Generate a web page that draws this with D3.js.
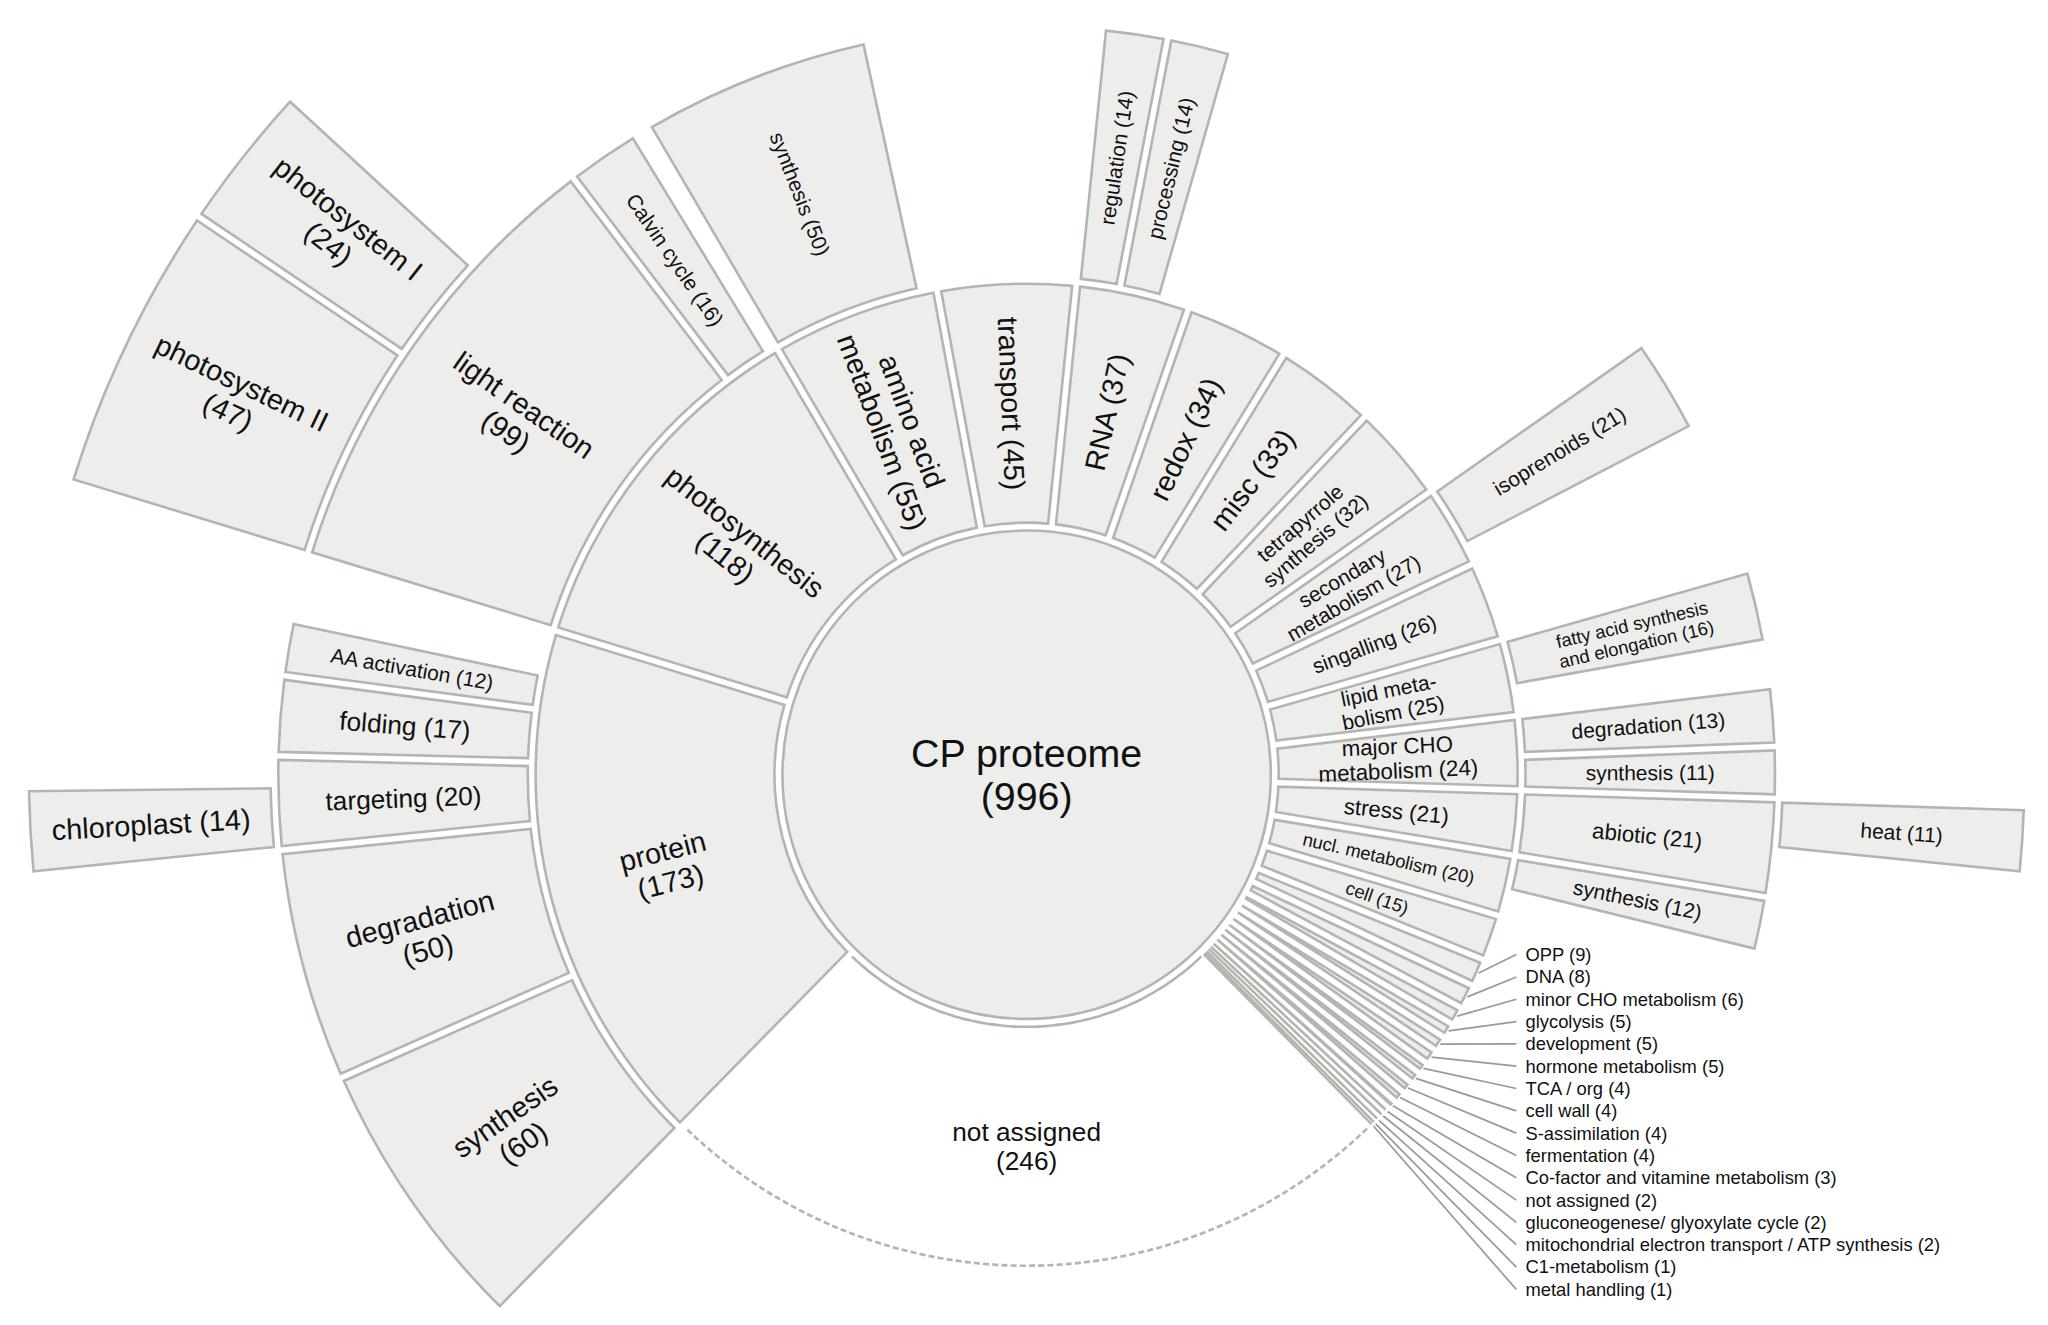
<!DOCTYPE html>
<html>
<head>
<meta charset="utf-8">
<script src="https://cdn.jsdelivr.net/npm/d3@7"></script>
<style>
  body { margin: 0; background: #fff; }
  text { font-family: "Liberation Sans", Arial, sans-serif; fill: #111; }
</style>
</head>
<body>
<div id="chart"></div>
<script>
// data
const ROOT_LABEL = "CP proteome";
const ROOT_VALUE = 996;

const ring1Names = ["amino acid metabolism", "transport", "RNA", "redox", "misc",
  "tetrapyrrole synthesis", "secondary metabolism", "singalling", "lipid metabolism",
  "major CHO metabolism", "stress", "nucl. metabolism", "cell",
  "OPP", "DNA", "minor CHO metabolism", "glycolysis", "development", "hormone metabolism",
  "TCA / org", "cell wall", "S-assimilation", "fermentation", "Co-factor and vitamine metabolism",
  "not assigned ", "gluconeogenese/ glyoxylate cycle", "mitochondrial electron transport / ATP synthesis",
  "C1-metabolism", "metal handling",
  "not assigned", "protein", "photosynthesis"];
const ring1Values = [55, 45, 37, 34, 33, 32, 27, 26, 25, 24, 21, 20, 15,
  9, 8, 6, 5, 5, 5, 4, 4, 4, 4, 3, 2, 2, 2, 1, 1,
  246, 173, 118];
const ring1Labels = ["amino acid|metabolism (55)", "transport (45)", "RNA (37)", "redox (34)", "misc (33)",
  "tetrapyrrole|synthesis (32)", "secondary|metabolism (27)", "singalling (26)", "lipid meta-|bolism (25)",
  "major CHO|metabolism (24)", "stress (21)", "nucl. metabolism (20)", "cell (15)"];
const ring1Big = ["amino acid metabolism", "transport", "RNA", "redox", "misc", "protein", "photosynthesis"];

const ring2Parents = ["amino acid metabolism", "RNA", "RNA", "secondary metabolism", "lipid metabolism",
  "major CHO metabolism", "major CHO metabolism", "stress", "nucl. metabolism",
  "protein", "protein", "protein", "protein", "protein", "photosynthesis", "photosynthesis"];
const ring2Names = ["synthesis (50)", "regulation (14)", "processing (14)", "isoprenoids (21)",
  "fatty acid synthesis|and elongation (16)", "degradation (13)", "synthesis (11)", "abiotic (21)",
  "synthesis (12)", "synthesis|(60)", "degradation|(50)", "targeting (20)", "folding (17)",
  "AA activation (12)", "light reaction|(99)", "Calvin cycle (16)"];
const ring2Values = [50, 14, 14, 21, 16, 13, 11, 21, 12, 60, 50, 20, 17, 12, 99, 16];
const ring2Sizes = [16, 16, 16, 16, 14, 16, 16, 17, 16, 22, 22, 20, 20, 16, 22, 16];

const ring3Parents = ["light reaction|(99)", "light reaction|(99)", "targeting (20)", "abiotic (21)"];
const ring3Names = ["photosystem II|(47)", "photosystem I|(24)", "chloroplast (14)", "heat (11)"];
const ring3Values = [47, 24, 14, 11];
const ring3Sizes = [22, 22, 22, 16];

// layout
const W = 1560, H = 1009;
const CX = 782, CY = 590;
const R0 = 186;
const RINGS = [[192, 374], [380, 570], [576, 760]];
const START = -30.36 * Math.PI / 180;
const FILL = "#ededeb", STROKE = "#b5b5b0";

const svg = d3.select("#chart").append("svg")
  .attr("width", 2048).attr("height", 1325)
  .attr("viewBox", `0 0 ${W} ${H}`);
const g = svg.append("g").attr("transform", `translate(${CX},${CY})`);

const angle = d3.scaleLinear().domain([0, ROOT_VALUE]).range([START, START + 2 * Math.PI]);
const arc = d3.arc().padAngle(0.016).padRadius(380);

// build node list
const nodes = [];
let acc = 0;
ring1Names.forEach((n, i) => {
  nodes.push({ key: n, ring: 0, a0: angle(acc), a1: angle(acc + ring1Values[i]), v0: acc,
    label: ring1Labels[i] || null, size: ring1Big.includes(n) ? 22 : (i < 9 && i > 4 ? 16 : (i < 11 ? 17 : 14)) });
  acc += ring1Values[i];
});
function addChildren(parents, names, values, sizes, ring) {
  const used = {};
  names.forEach((n, i) => {
    const p = nodes.find(d => d.key === parents[i] && d.ring === ring - 1);
    const off = used[parents[i]] || 0;
    nodes.push({ key: n, ring: ring, v0: p.v0 + off,
      a0: angle(p.v0 + off), a1: angle(p.v0 + off + values[i]), label: n, size: sizes[i] });
    used[parents[i]] = off + values[i];
  });
}
addChildren(ring2Parents, ring2Names, ring2Values, ring2Sizes, 1);
addChildren(ring3Parents, ring3Names, ring3Values, ring3Sizes, 2);

const prot = nodes.find(d => d.key === "protein"); prot.label = "protein|(173)";
const phot = nodes.find(d => d.key === "photosynthesis"); phot.label = "photosynthesis|(118)";
const na = nodes.find(d => d.key === "not assigned");

// segments
g.selectAll("path.seg")
  .data(nodes.filter(d => d !== na))
  .join("path")
    .attr("class", "seg")
    .attr("d", d => arc({ innerRadius: RINGS[d.ring][0], outerRadius: RINGS[d.ring][1], startAngle: d.a0, endAngle: d.a1 }))
    .attr("fill", FILL)
    .attr("stroke", STROKE)
    .attr("stroke-width", 2);

// not assigned: dashed outline only
[RINGS[0][0], RINGS[0][1]].forEach(r => {
  g.append("path")
    .attr("d", d3.arc()({ innerRadius: r, outerRadius: r, startAngle: na.a0 + 0.01, endAngle: na.a1 - 0.01 }))
    .attr("fill", "none")
    .attr("stroke", STROKE)
    .attr("stroke-width", 2)
    .attr("stroke-dasharray", "4,3");
});

// root
g.append("circle").attr("r", R0).attr("fill", FILL).attr("stroke", STROKE).attr("stroke-width", 2);

function drawLabel(text, x, y, rot, size) {
  const lines = text.split("|");
  const t = g.append("text")
    .attr("transform", `translate(${x},${y}) rotate(${rot})`)
    .attr("text-anchor", "middle")
    .attr("font-size", size);
  lines.forEach((l, i) => {
    t.append("tspan").attr("x", 0)
      .attr("dy", i === 0 ? (0.35 - (lines.length - 1) * 0.55) + "em" : "1.1em")
      .text(l);
  });
}
drawLabel(ROOT_LABEL + "|(" + ROOT_VALUE + ")", 0, 0, 0, 30);

// segment labels
nodes.forEach(d => {
  let text = d.label;
  if (d === na) text = "not assigned|(246)";
  if (!text) return;
  const mid = (d.a0 + d.a1) / 2;
  let deg = mid * 180 / Math.PI;
  deg = ((deg % 360) + 540) % 360 - 180;
  const r = (RINGS[d.ring][0] + RINGS[d.ring][1]) / 2;
  const x = r * Math.sin(mid), y = -r * Math.cos(mid);
  let rot = deg < 0 ? deg + 90 : deg - 90;
  if (d === na) rot = 0;
  drawLabel(text, x, y, rot, d === na ? 20 : d.size);
});

// leader labels for the small categories
const small = nodes.filter((d, i) => d.ring === 0 && i >= 13 && i <= 28);
small.forEach((d, i) => {
  const mid = (d.a0 + d.a1) / 2;
  const x0 = (RINGS[0][1] + 2) * Math.sin(mid), y0 = -(RINGS[0][1] + 2) * Math.cos(mid);
  const ly = 727 + i * 17 - CY, lx = 1155 - CX;
  g.append("line").attr("x1", x0).attr("y1", y0).attr("x2", lx).attr("y2", ly)
    .attr("stroke", "#999").attr("stroke-width", 1.3);
  g.append("text").attr("x", lx + 7).attr("y", ly).attr("dy", "0.35em")
    .attr("font-size", 14)
    .text(d.key.trim() + " (" + ring1Values[ring1Names.indexOf(d.key)] + ")");
});
</script>
</body>
</html>
